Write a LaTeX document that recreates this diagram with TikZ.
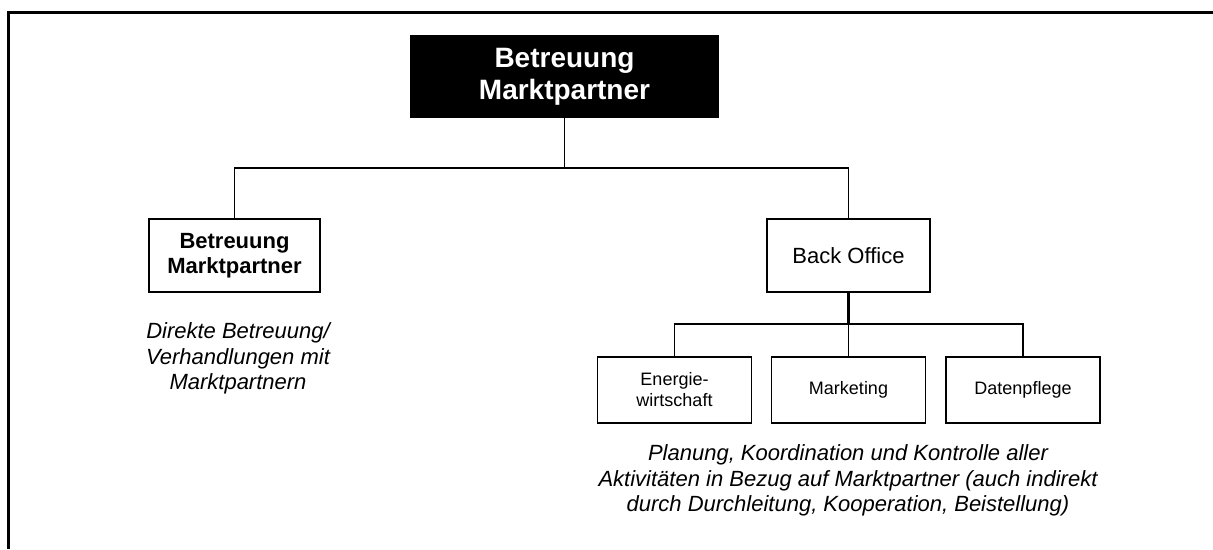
\documentclass[tikz,border=0pt]{standalone}
\usepackage{fontspec}
\setmainfont{Liberation Sans}
\begin{document}
\begin{tikzpicture}[x=1pt,y=-1pt,
  frame/.style={line width=3pt},
  box/.style={draw=black,line width=1.6pt,fill=white,inner sep=0pt,align=center},
  topbox/.style={fill=black,text=white,inner sep=0pt,align=center,font=\bfseries\fontsize{28}{32}\selectfont},
  midfont/.style={font=\fontsize{22}{25}\selectfont},
  smallbox/.style={box,minimum width=154pt,minimum height=66pt,font=\fontsize{18}{21}\selectfont},
  link/.style={line width=1.6pt},
  note/.style={font=\itshape\fontsize{22}{25}\selectfont,anchor=base,inner sep=0pt}]
\useasboundingbox (0,0) rectangle (1213,549);
\draw[frame] (8,549) -- (8,12) -- (1213,12);

\node[topbox,minimum width=309pt,minimum height=83pt] (top) at (564.5,76.5) {Betreuung\\Marktpartner};
\node[box,font=\bfseries\fontsize{22}{25}\selectfont,minimum width=171pt,minimum height=73pt] (bm) at (234.5,255.5) {Betreuung\\Marktpartner};
\node[box,midfont,minimum width=163pt,minimum height=73pt] (bo) at (848.5,255.5) {Back Office};

\node[smallbox] (ew) at (674.5,390) {Energie-\\wirtschaft};
\node[smallbox] (mk) at (848.5,390) {Marketing};
\node[smallbox] (dp) at (1023,390) {Datenpflege};

\coordinate (hub1) at (564.5,168);
\coordinate (hub2) at (848.5,324);
\draw[link] (top.south) -- (hub1);
\draw[link] (bm.north) |- (hub1);
\draw[link] (bo.north) |- (hub1);
\draw[line width=2.6pt] (bo.south) -- (hub2);
\draw[link] (ew.north) |- (hub2);
\draw[link] (mk.north) -- (hub2);
\draw[link] (dp.north) |- (hub2);

\node[note] (n1) at (238,338) {Direkte Betreuung/};
\node[note] (n2) at (238,364) {Verhandlungen mit};
\node[note] (n3) at (238,389) {Marktpartnern};

\node[note] (b1) at (848,460) {Planung, Koordination und Kontrolle aller};
\node[note] (b2) at (848,486) {Aktivitäten in Bezug auf Marktpartner (auch indirekt};
\node[note] (b3) at (848,511) {durch Durchleitung, Kooperation, Beistellung)};
\end{tikzpicture}
\end{document}
